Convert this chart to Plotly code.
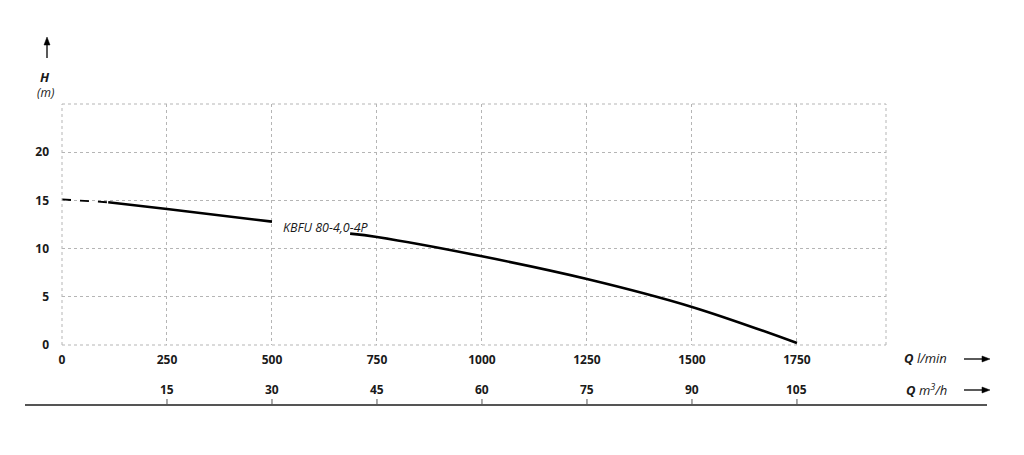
import plotly.graph_objects as go

# ---- data ----
q_dash = [0, 110]
h_dash = [15.1, 14.8]
q_curve = [110, 250, 500, None, 686, 750, 1000, 1250, 1500, 1750]
h_curve = [14.8, 14.1, 12.8, None, 11.55, 11.2, 9.2, 6.85, 3.95, 0.2]
x_ticks_lmin = [0, 250, 500, 750, 1000, 1250, 1500, 1750]
x_ticks_m3h = [15, 30, 45, 60, 75, 90, 105]
y_ticks = [0, 5, 10, 15, 20]
curve_label = "KBFU 80-4,0-4P"

X_MAX = 1962
Y_MAX = 25

FONT = "Open Sans"
OFF = 8  # page body margin
W, H = 1024 - OFF, 455 - OFF
L = 62 - OFF
T = 104 - OFF
R = W - (886 - OFF)
B = H - (345 - OFF)
pw = W - L - R
ph = H - T - B

def px_x(p):
    return (p - OFF - L) / pw

def px_y(p):
    return (H - B - (p - OFF)) / ph

fig = go.Figure()
fig.add_trace(go.Scatter(x=q_dash, y=h_dash, mode="lines",
                         line=dict(color="black", width=1.8, dash="dash"),
                         hoverinfo="skip", showlegend=False))
fig.add_trace(go.Scatter(x=q_curve, y=h_curve, mode="lines",
                         line=dict(color="black", width=2.6, shape="spline", smoothing=1.0),
                         connectgaps=False, hoverinfo="skip", showlegend=False))

tickfont = dict(family=FONT, size=12, color="#1a1a1a", weight="bold")
fig.update_layout(
    width=W, height=H,
    margin=dict(l=L, r=R, t=T, b=B),
    paper_bgcolor="white", plot_bgcolor="white",
    xaxis=dict(range=[0, X_MAX], tickvals=x_ticks_lmin, ticktext=[str(v) for v in x_ticks_lmin],
               showgrid=True, gridcolor="#b5b5b5", griddash="dot", gridwidth=1,
               zeroline=False, showline=False, ticks="", tickfont=tickfont,
               ticklabelstandoff=6, fixedrange=True),
    yaxis=dict(range=[0, Y_MAX], tickvals=y_ticks, ticktext=[str(v) for v in y_ticks],
               showgrid=True, gridcolor="#b5b5b5", griddash="dot", gridwidth=1,
               zeroline=False, showline=False, ticks="", tickfont=tickfont,
               ticklabelstandoff=12, fixedrange=True),
)

shapes = []
border = dict(color="#b5b5b5", width=1, dash="dot")
for x0, x1, y0, y1 in [(0, 1, 1, 1), (1, 1, 0, 1), (0, 1, 0, 0), (0, 0, 0, 1)]:
    shapes.append(dict(type="line", xref="paper", yref="paper", x0=x0, x1=x1, y0=y0, y1=y1,
                       line=border))
# bottom base line
base_y = px_y(405)
shapes.append(dict(type="line", xref="paper", yref="paper", x0=px_x(25), x1=px_x(987),
                   y0=base_y, y1=base_y, line=dict(color="#555555", width=2)))
annotations = []
for v in x_ticks_m3h:
    q = v * 1000 / 60
    shapes.append(dict(type="line", xref="x", yref="paper", x0=q, x1=q,
                       y0=base_y, y1=px_y(399), line=dict(color="#555555", width=1)))
    annotations.append(dict(x=q, y=px_y(389), xref="x", yref="paper", text=str(v),
                            showarrow=False, font=tickfont, xanchor="center", yanchor="middle"))

# arrows as shapes
def arrow_h(x0, x1, y):
    shapes.append(dict(type="line", xref="paper", yref="paper", x0=px_x(x0), x1=px_x(x1 - 6),
                       y0=px_y(y), y1=px_y(y), line=dict(color="black", width=1.3)))
    path = "M {} {} L {} {} L {} {} Z".format(px_x(x1), px_y(y), px_x(x1 - 8), px_y(y - 3),
                                             px_x(x1 - 8), px_y(y + 3))
    shapes.append(dict(type="path", xref="paper", yref="paper", path=path,
                       fillcolor="black", line=dict(color="black", width=0.5)))

def arrow_v(x, y0, y1):
    shapes.append(dict(type="line", xref="paper", yref="paper", x0=px_x(x), x1=px_x(x),
                       y0=px_y(y0), y1=px_y(y1 + 6), line=dict(color="black", width=1.3)))
    path = "M {} {} L {} {} L {} {} Z".format(px_x(x), px_y(y1), px_x(x - 3), px_y(y1 + 8),
                                             px_x(x + 3), px_y(y1 + 8))
    shapes.append(dict(type="path", xref="paper", yref="paper", path=path,
                       fillcolor="black", line=dict(color="black", width=0.5)))

arrow_h(964, 990, 359)
arrow_h(964, 990, 390)
arrow_v(47, 58, 37)

# curve label
annotations.append(dict(x=px_x(326), y=px_y(227), xref="paper", yref="paper",
                        text="<i>" + curve_label + "</i>",
                        showarrow=False, font=dict(family=FONT, size=12.5, color="#1a1a1a"),
                        xanchor="center", yanchor="middle"))
# axis titles
annotations.append(dict(x=px_x(949), y=px_y(358), xref="paper", yref="paper",
                        text="<b><i>Q</i></b> <i>l/min</i>", showarrow=False,
                        font=dict(family=FONT, size=13, color="#1a1a1a"),
                        xanchor="right", yanchor="middle"))
annotations.append(dict(x=px_x(949), y=px_y(389), xref="paper", yref="paper",
                        text="<b><i>Q</i></b> <i>m<sup>3</sup>/h</i>", showarrow=False,
                        font=dict(family=FONT, size=13, color="#1a1a1a"),
                        xanchor="right", yanchor="middle"))
annotations.append(dict(x=px_x(45), y=px_y(77), xref="paper", yref="paper",
                        text="<b><i>H</i></b>", showarrow=False,
                        font=dict(family=FONT, size=13, color="#1a1a1a"),
                        xanchor="center", yanchor="middle"))
annotations.append(dict(x=px_x(45), y=px_y(93), xref="paper", yref="paper",
                        text="<i>(m)</i>", showarrow=False,
                        font=dict(family=FONT, size=12, color="#1a1a1a"),
                        xanchor="center", yanchor="middle"))

fig.update_layout(shapes=shapes, annotations=annotations)
fig.write_html("out.html")
